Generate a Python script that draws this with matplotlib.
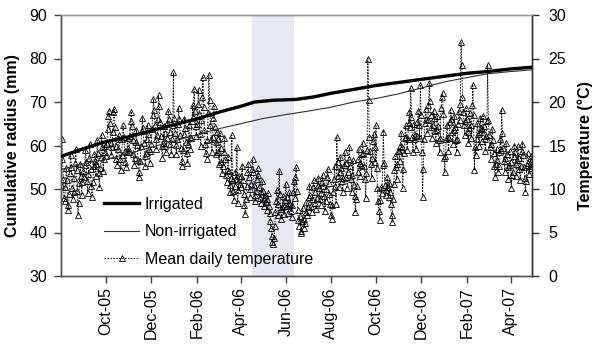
import matplotlib
matplotlib.use("Agg")
import matplotlib.pyplot as plt
import matplotlib.dates as mdates
from matplotlib.lines import Line2D
import numpy as np
import pandas as pd

plt.rcParams['font.family'] = ['Liberation Sans', 'DejaVu Sans']

# ---------------- data ----------------
irr_dates = ["2005-08-01", "2005-09-01", "2005-10-01", "2005-11-01", "2005-12-01",
             "2006-01-01", "2006-02-01", "2006-03-01", "2006-04-01", "2006-04-20",
             "2006-05-15", "2006-06-15", "2006-07-10", "2006-08-01", "2006-09-01",
             "2006-10-01", "2006-11-01", "2006-12-01", "2007-01-01", "2007-02-01",
             "2007-03-01", "2007-04-01", "2007-04-30"]
irr_values = [57.5, 59.3, 60.9, 62.0, 63.4, 64.8, 66.1, 67.6, 69.0, 70.0,
              70.4, 70.6, 71.2, 72.0, 72.9, 73.8, 74.5, 75.2, 75.9, 76.6,
              77.0, 77.6, 78.0]

non_dates = ["2005-08-01", "2005-09-01", "2005-10-01", "2005-11-01", "2005-12-01",
             "2006-01-01", "2006-02-01", "2006-03-01", "2006-04-01", "2006-05-01",
             "2006-06-01", "2006-07-01", "2006-08-01", "2006-09-01", "2006-10-01",
             "2006-11-01", "2006-12-01", "2007-01-01", "2007-02-01", "2007-03-01",
             "2007-04-01", "2007-04-30"]
non_values = [54.5, 55.8, 56.8, 58.2, 59.6, 61.0, 62.5, 63.8, 65.0, 66.2,
              67.1, 67.9, 68.8, 70.0, 70.8, 71.9, 73.2, 74.6, 75.6, 76.5,
              77.0, 77.4]

# mean daily temperature (deg C), one list per month (daily values)
temp_by_month = {
    "2005-08": [10.5, 15.8, 13.5, 11.2, 9.0, 8.6, 10.2, 12.4, 11.0, 8.2, 7.6, 9.4, 11.8, 13.9, 12.5, 10.1,
                8.9, 9.6, 11.3, 13.0, 14.6, 12.2, 9.8, 7.0, 8.4, 10.7, 12.9, 11.5, 9.3, 10.8, 12.1],
    "2005-09": [11.4, 12.8, 14.5, 13.1, 10.9, 9.5, 11.7, 13.6, 15.2, 12.3, 10.4, 9.1, 10.8, 12.6, 14.0,
                13.2, 11.5, 12.9, 15.6, 14.1, 11.8, 10.2, 12.4, 13.7, 16.2, 14.8, 12.1, 13.5, 15.0, 14.2],
    "2005-10": [13.8, 15.2, 16.9, 18.4, 19.0, 17.6, 15.3, 13.9, 14.8, 16.5, 18.8, 19.2, 17.1, 15.0, 13.4,
                12.8, 14.6, 16.2, 15.7, 13.5, 12.2, 13.9, 15.8, 17.3, 16.0, 14.4, 13.1, 12.5, 14.2, 15.9, 14.7],
    "2005-11": [14.3, 16.1, 17.8, 18.9, 17.2, 15.6, 14.0, 12.8, 13.6, 15.4, 16.8, 15.1, 13.3, 12.0, 11.4,
                13.2, 14.9, 16.7, 18.2, 17.0, 15.3, 13.8, 12.6, 14.1, 15.8, 17.4, 16.3, 14.6, 13.0, 14.4],
    "2005-12": [15.2, 16.9, 18.5, 20.3, 19.1, 17.4, 15.8, 14.6, 16.2, 18.0, 20.8, 19.5, 17.7, 16.1, 14.9,
                13.6, 15.3, 17.2, 16.4, 15.0, 14.2, 15.9, 17.6, 19.0, 18.1, 16.5, 15.2, 14.0, 15.7, 17.3, 23.4],
    "2006-01": [18.2, 16.4, 15.1, 14.0, 15.8, 17.5, 19.3, 18.0, 16.2, 14.7, 13.2, 12.6, 14.5, 16.3, 18.1,
                17.0, 15.4, 14.1, 13.0, 15.2, 17.4, 16.0, 14.6, 15.9, 17.8, 19.6, 18.3, 21.5, 19.0, 17.2, 16.1],
    "2006-02": [17.5, 19.8, 21.4, 18.6, 16.3, 15.0, 17.9, 20.6, 22.9, 19.4, 16.8, 15.2, 14.1, 13.5, 15.6,
                18.7, 23.1, 20.2, 17.4, 15.8, 14.3, 16.0, 18.2, 19.5, 17.1, 15.4, 14.0, 16.5],
    "2006-03": [15.8, 14.2, 12.9, 16.4, 14.7, 13.1, 11.8, 12.6, 14.3, 15.9, 13.4, 11.6, 10.8, 12.2, 13.7,
                12.1, 10.5, 9.6, 11.3, 16.2, 11.0, 9.8, 8.7, 10.4, 12.0, 11.2, 14.8, 8.4, 9.9, 11.5, 10.6],
    "2006-04": [10.2, 11.5, 12.7, 11.0, 9.4, 8.2, 7.1, 8.8, 10.3, 11.9, 12.9, 11.4, 10.0, 9.1, 10.6,
                12.3, 13.4, 12.0, 10.5, 9.3, 8.6, 9.8, 11.1, 12.4, 11.6, 10.2, 9.0, 8.4, 9.7, 10.9],
    "2006-05": [9.8, 8.9, 8.0, 9.3, 8.5, 7.6, 8.8, 9.5, 8.1, 7.2, 6.3, 5.5, 4.6, 3.9, 3.7,
                4.4, 5.8, 7.4, 8.6, 9.9, 8.3, 7.0, 12.1, 9.4, 7.7, 6.5, 7.9, 9.2, 8.0, 7.1, 8.7],
    "2006-06": [10.6, 9.1, 8.0, 7.2, 8.4, 9.6, 8.3, 7.5, 6.8, 8.2, 9.7, 10.9, 9.0, 11.4, 12.5,
                9.8, 7.6, 6.4, 5.8, 6.9, 5.2, 5.0, 6.3, 7.8, 6.6, 5.5, 6.1, 7.4, 8.5, 7.0],
    "2006-07": [7.9, 9.1, 10.4, 9.3, 8.1, 7.4, 8.8, 10.2, 11.0, 9.6, 8.4, 7.7, 9.0, 10.5, 11.3,
                10.1, 8.9, 8.2, 9.5, 10.8, 11.6, 10.3, 9.2, 7.5, 8.6, 10.0, 11.4, 12.3, 10.7, 9.4, 8.3],
    "2006-08": [7.0, 6.6, 8.2, 9.7, 11.2, 12.6, 10.4, 8.3, 16.0, 13.1, 11.5, 10.2, 12.0, 13.7, 12.4,
                10.9, 9.6, 11.3, 12.8, 14.2, 13.0, 11.4, 10.1, 11.9, 13.5, 14.8, 12.7, 11.2, 9.7, 11.6, 13.3],
    "2006-09": [10.5, 9.2, 7.4, 8.8, 10.3, 11.9, 13.4, 14.6, 13.0, 11.5, 12.8, 14.0, 15.3, 14.1, 12.6,
                11.2, 9.0, 11.8, 14.5, 25.0, 20.2, 16.0, 14.4, 12.9, 11.3, 13.6, 15.5, 16.3, 14.8, 13.1],
    "2006-10": [17.3, 12.4, 10.1, 8.6, 7.5, 6.4, 8.7, 10.2, 9.5, 12.8, 16.6, 13.0, 10.5, 9.3, 9.9,
                11.4, 10.2, 9.1, 10.7, 9.6, 8.3, 7.0, 6.2, 8.9, 10.6, 12.2, 13.8, 12.5, 11.1, 12.9, 14.4],
    "2006-11": [14.4, 13.2, 15.0, 16.4, 14.8, 10.1, 12.3, 14.1, 15.9, 17.3, 16.0, 14.5, 15.8, 17.6, 18.9,
                17.1, 21.6, 18.3, 16.0, 14.3, 15.8, 17.5, 16.2, 14.6, 16.1, 17.7, 19.0, 17.4, 15.9, 22.0],
    "2006-12": [18.5, 14.2, 9.1, 12.3, 15.8, 17.6, 19.2, 18.0, 16.4, 17.9, 19.6, 22.2, 20.1, 18.5, 17.1,
                15.9, 17.4, 19.0, 18.2, 16.7, 15.3, 16.8, 18.4, 17.2, 15.6, 14.2, 15.9, 19.3, 20.6, 21.0, 18.6],
    "2007-01": [13.6, 11.9, 13.8, 15.7, 17.3, 16.0, 14.4, 15.9, 17.7, 19.1, 18.0, 16.5, 15.2, 16.8, 18.4,
                17.1, 15.6, 14.3, 15.8, 17.5, 19.0, 17.9, 19.8, 26.9, 24.2, 20.6, 18.8, 17.4, 16.2, 17.8, 19.3],
    "2007-02": [18.1, 16.6, 15.3, 17.0, 18.7, 17.4, 15.9, 19.6, 22.0, 18.5, 12.2, 14.8, 13.9, 15.8, 17.6,
                16.3, 14.9, 16.5, 18.2, 17.0, 15.5, 16.9, 18.4, 17.2, 15.7, 14.4, 16.1, 17.8],
    "2007-03": [24.2, 17.9, 16.2, 14.8, 13.5, 15.2, 16.9, 15.6, 14.1, 12.7, 11.4, 12.9, 14.6, 13.3, 11.9,
                12.6, 14.3, 15.8, 14.5, 19.1, 16.4, 14.7, 13.2, 12.0, 13.6, 15.3, 14.0, 12.5, 11.2, 12.8, 14.4],
    "2007-04": [13.1, 10.1, 11.6, 12.0, 13.8, 15.0, 14.2, 12.9, 11.5, 13.3, 14.9, 13.6, 12.3, 11.0, 12.7,
                14.4, 15.2, 13.9, 12.5, 11.3, 9.7, 10.9, 12.8, 14.1, 13.0, 11.7, 12.6, 13.8, 12.4, 13.5],
}

tick_dates = ["2005-10-01", "2005-12-01", "2006-02-01", "2006-04-01", "2006-06-01",
              "2006-08-01", "2006-10-01", "2006-12-01", "2007-02-01", "2007-04-01"]
tick_labels = ["Oct-05", "Dec-05", "Feb-06", "Apr-06", "Jun-06",
               "Aug-06", "Oct-06", "Dec-06", "Feb-07", "Apr-07"]

shade_start = "2006-04-16"
shade_end = "2006-06-12"
x_start = "2005-08-01"
x_end = "2007-04-30"

labels = ["Irrigated", "Non-irrigated", "Mean daily temperature"]
ylabel_left = "Cumulative radius (mm)"
ylabel_right = "Temperature (\u00b0C)"

# ---------------- build series ----------------
t_dates, t_vals = [], []
for m, vals in temp_by_month.items():
    start = pd.Timestamp(m + "-01")
    for i, v in enumerate(vals):
        t_dates.append(start + pd.Timedelta(days=i))
        t_vals.append(v)

irr_d = pd.to_datetime(irr_dates)
non_d = pd.to_datetime(non_dates)

# ---------------- figure ----------------
fig = plt.figure(figsize=(6.0, 3.51), dpi=100)
ax = fig.add_axes([61/600, 1-276/351, (532-61)/600, (276-15)/351])
ax2 = ax.twinx()

temp_style = dict(color='black', lw=0.6, ls=(0, (2.0, 1.5)), marker='^', ms=4.6,
                  mfc='none', mec='black', mew=0.6)

# temperature on right axis (drawn below)
ax2.axvspan(pd.Timestamp(shade_start), pd.Timestamp(shade_end), color='#e7e8f0', zorder=0, lw=0)
ax2.plot(t_dates, t_vals, zorder=2, **temp_style)

# radius lines on left axis (drawn on top)
ax.set_zorder(ax2.get_zorder() + 1)
ax.patch.set_visible(False)
ax.plot(irr_d, irr_values, color='black', lw=2.4, solid_capstyle='butt', zorder=3)
ax.plot(non_d, non_values, color='#303030', lw=0.8, zorder=3)

ax.set_ylim(30, 90)
ax2.set_ylim(0, 30)
ax.set_yticks([30, 40, 50, 60, 70, 80, 90])
ax2.set_yticks([0, 5, 10, 15, 20, 25, 30])
ax.set_xlim(pd.Timestamp(x_start), pd.Timestamp(x_end))

ax.set_xticks(pd.to_datetime(tick_dates))
ax.set_xticklabels(tick_labels, rotation=90)
ax.xaxis.set_minor_locator(plt.NullLocator())

fs = 11.5
ax.tick_params(axis='x', direction='out', length=5, width=1, colors='#404040',
               labelcolor='black', labelsize=fs, pad=3)
ax.tick_params(axis='y', direction='out', length=5, width=1, colors='#404040',
               labelcolor='black', labelsize=fs, pad=5)
ax2.tick_params(axis='y', direction='out', length=5, width=1, colors='#303030',
                labelcolor='black', labelsize=fs, pad=7)

for a in (ax, ax2):
    a.spines['left'].set_color('#505050')
    a.spines['bottom'].set_color('#505050')
    a.spines['top'].set_color('#999999')
    a.spines['right'].set_color('#303030')
    for s in a.spines.values():
        s.set_linewidth(1.0)

ax.set_ylabel(ylabel_left, fontsize=fs, fontweight='bold')
ax.yaxis.set_label_coords(-0.088, 0.5)
ax2.set_ylabel(ylabel_right, fontsize=fs, fontweight='bold', rotation=90)
ax2.yaxis.set_label_coords(1.097, 0.5)

handles = [Line2D([], [], color='black', lw=2.4),
           Line2D([], [], color='#303030', lw=0.8),
           Line2D([], [], **temp_style)]
leg = ax.legend(handles, labels, loc='upper left', bbox_to_anchor=(104/600, 1-197/351),
                bbox_transform=fig.transFigure, frameon=False, fontsize=fs,
                borderpad=0, borderaxespad=0, handlelength=2.2, handletextpad=0.35,
                labelspacing=0.78, numpoints=1)

fig.savefig("out.png", dpi=100)
